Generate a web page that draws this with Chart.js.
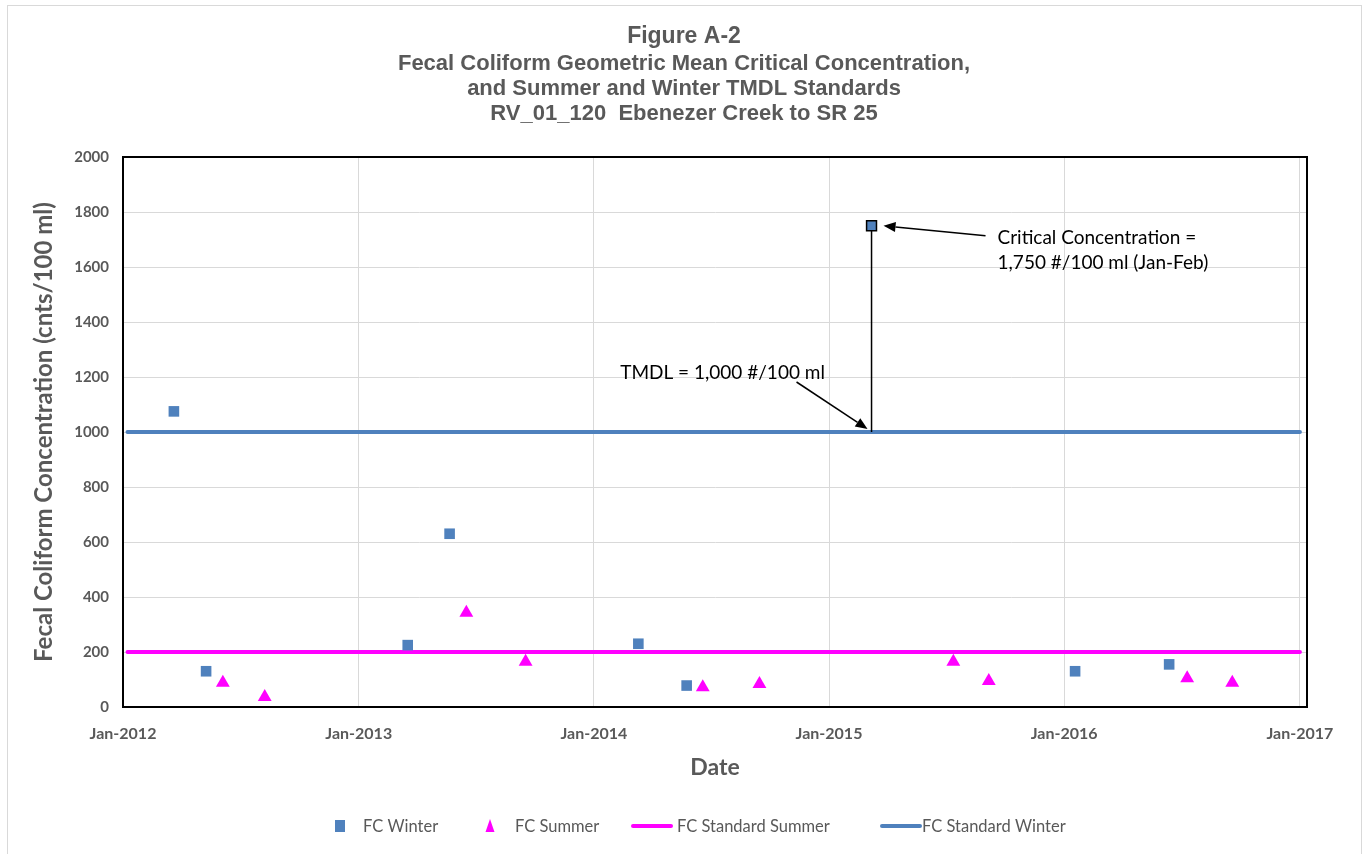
<!DOCTYPE html>
<html>
<head>
<meta charset="utf-8">
<script src="https://cdn.jsdelivr.net/npm/chart.js@4/dist/chart.umd.min.js"></script>
<style>
html,body{margin:0;padding:0;background:#fff;}
#wrap{width:1369px;height:854px;position:relative;}
</style>
</head>
<body>
<div id="wrap"><canvas id="c" width="1369" height="854"></canvas></div>
<script>
// ---------- data ----------
const winterDates  = ['2012-03-20','2012-05-09','2013-03-18','2013-05-22','2014-03-11','2014-05-25','2016-01-18','2016-06-12'];
const winterValues = [1075, 130, 225, 630, 230, 78, 130, 155];

const summerDates  = ['2012-06-04','2012-08-08','2013-06-17','2013-09-17','2014-06-19','2014-09-15','2015-07-13','2015-09-06','2016-07-10','2016-09-18'];
const summerValues = [88, 36, 343, 165, 72, 84, 165, 95, 105, 88];

const criticalDate  = '2015-03-08';
const criticalValue = 1750;

const standardDates  = ['2012-01-08','2017-01-01'];
const summerStandard = [200, 200];
const winterStandard = [1000, 1000];

const xTickDates = ['2012-01-01','2013-01-01','2014-01-01','2015-01-01','2016-01-01','2017-01-01'];
const monthNames = ['Jan','Feb','Mar','Apr','May','Jun','Jul','Aug','Sep','Oct','Nov','Dec'];

const titleLines = ['Figure A-2','Fecal Coliform Geometric Mean Critical Concentration,','and Summer and Winter TMDL Standards','RV_01_120  Ebenezer Creek to SR 25'];
const critLabel = ['Critical Concentration =','1,750 #/100 ml (Jan-Feb)'];
const tmdlLabel = 'TMDL = 1,000 #/100 ml';

// ---------- helpers ----------
const toT = d => Date.parse(d + 'T00:00:00Z');
const pts = (dates, vals) => dates.map((d, i) => ({x: toT(d), y: vals[i]}));

const BLUE = '#4f81bd', PINK = '#ff00ff', GRAY = '#595959', GRID = '#d9d9d9';

const datasets = [
  {label: 'Critical Concentration', data: pts([criticalDate],[criticalValue]), pointStyle: 'rect', pointRadius: 7,
   backgroundColor: BLUE, borderColor: '#000', pointBorderWidth: 1.5, showLine: false, order: 0},
  {label: 'FC Winter', data: pts(winterDates, winterValues), pointStyle: 'rect', pointRadius: 7.5,
   backgroundColor: BLUE, borderColor: BLUE, pointBorderWidth: 0, showLine: false, order: 1},
  {label: 'FC Summer', data: pts(summerDates, summerValues), pointStyle: 'triangle', pointRadius: 8,
   backgroundColor: PINK, borderColor: PINK, pointBorderWidth: 0, showLine: false, order: 1},
  {label: 'leader', data: pts([criticalDate, criticalDate],[criticalValue, winterStandard[0]]), showLine: true,
   borderColor: '#000', borderWidth: 1.5, pointRadius: 0, order: 2},
  {label: 'FC Standard Summer', data: pts(standardDates, summerStandard), showLine: true, borderColor: PINK,
   backgroundColor: PINK, borderWidth: 4, borderCapStyle: 'round', pointRadius: 0, order: 3},
  {label: 'FC Standard Winter', data: pts(standardDates, winterStandard), showLine: true, borderColor: BLUE,
   backgroundColor: BLUE, borderWidth: 4, borderCapStyle: 'round', pointRadius: 0, order: 3}
];

function arrow(ctx, x1, y1, x2, y2, head, width) {
  const a = Math.atan2(y2 - y1, x2 - x1);
  const bx = x2 - head * Math.cos(a), by = y2 - head * Math.sin(a);
  ctx.beginPath(); ctx.moveTo(x1, y1); ctx.lineTo(bx, by); ctx.stroke();
  ctx.beginPath();
  ctx.moveTo(x2, y2);
  ctx.lineTo(bx + width/2 * Math.sin(a), by - width/2 * Math.cos(a));
  ctx.lineTo(bx - width/2 * Math.sin(a), by + width/2 * Math.cos(a));
  ctx.closePath(); ctx.fill();
}

const decor = {
  id: 'decor',
  beforeDraw(chart) {
    const ctx = chart.ctx;
    ctx.save();
    ctx.fillStyle = '#fff';
    ctx.fillRect(0, 0, chart.width, chart.height);
    ctx.strokeStyle = GRID; ctx.lineWidth = 1;
    ctx.strokeRect(7.5, 5.5, 1354, 870);
    // titles
    ctx.fillStyle = GRAY; ctx.textAlign = 'center'; ctx.textBaseline = 'middle';
    ctx.font = 'bold 23px "Liberation Sans", Arial, sans-serif';
    ctx.fillText(titleLines[0], 684, 37);
    ctx.font = 'bold 22px "Liberation Sans", Arial, sans-serif';
    ctx.fillText(titleLines[1], 684, 64);
    ctx.fillText(titleLines[2], 684, 89);
    ctx.fillText(titleLines[3], 684, 114);
    ctx.restore();
  },
  afterDraw(chart) {
    const ctx = chart.ctx, ca = chart.chartArea;
    const xs = chart.scales.x, ys = chart.scales.y;
    ctx.save();
    // plot border
    ctx.strokeStyle = '#000'; ctx.lineWidth = 2;
    ctx.strokeRect(ca.left, ca.top, ca.right - ca.left, ca.bottom - ca.top);
    // annotations
    const cx = xs.getPixelForValue(toT(criticalDate));
    const cy = ys.getPixelForValue(criticalValue);
    const ty = ys.getPixelForValue(winterStandard[0]);
    ctx.strokeStyle = '#000'; ctx.fillStyle = '#000'; ctx.lineWidth = 1.5;
    arrow(ctx, cx + 114, cy + 10, cx + 12, cy, 12, 10);
    arrow(ctx, cx - 75, ty - 50, cx - 4, ty - 3, 12, 10);
    ctx.font = '19px Lato, "Open Sans", sans-serif';
    ctx.textAlign = 'left'; ctx.textBaseline = 'middle';
    ctx.fillText(critLabel[0], cx + 126, cy + 12);
    ctx.fillText(critLabel[1], cx + 126, cy + 37);
    ctx.textAlign = 'center';
    ctx.fillText(tmdlLabel, cx - 149, ty - 59);
    // legend
    const ly = 826;
    const ds = chart.data.datasets;
    const items = [
      {ds: ds[1], kind: 'rect', mx: 340, tx: 363},
      {ds: ds[2], kind: 'tri', mx: 490, tx: 515},
      {ds: ds[4], kind: 'line', mx: 652, tx: 677},
      {ds: ds[5], kind: 'line', mx: 901, tx: 922}
    ];
    ctx.font = '16.5px Lato, "Open Sans", sans-serif';
    ctx.textAlign = 'left'; ctx.textBaseline = 'middle';
    items.forEach(it => {
      if (it.kind === 'rect') {
        ctx.fillStyle = it.ds.backgroundColor;
        ctx.fillRect(it.mx - 5, ly - 6, 10, 12);
      } else if (it.kind === 'tri') {
        ctx.fillStyle = it.ds.backgroundColor;
        ctx.beginPath(); ctx.moveTo(it.mx, ly - 7); ctx.lineTo(it.mx + 4.5, ly + 6); ctx.lineTo(it.mx - 4.5, ly + 6); ctx.closePath(); ctx.fill();
      } else {
        ctx.strokeStyle = it.ds.borderColor; ctx.lineWidth = 4; ctx.lineCap = 'round';
        ctx.beginPath(); ctx.moveTo(it.mx - 19, ly); ctx.lineTo(it.mx + 19, ly); ctx.stroke();
      }
      ctx.fillStyle = GRAY;
      ctx.fillText(it.ds.label, it.tx, ly + 1);
    });
    ctx.restore();
  }
};

new Chart(document.getElementById('c'), {
  type: 'scatter',
  data: {datasets},
  plugins: [decor],
  options: {
    responsive: false,
    animation: false,
    events: [],
    layout: {padding: {top: 157, right: 62, bottom: 0, left: 0}},
    plugins: {legend: {display: false}, tooltip: {enabled: false}, title: {display: false}},
    scales: {
      x: {
        type: 'linear',
        min: toT('2012-01-01'),
        max: toT('2017-01-12'),
        afterBuildTicks: s => { s.ticks = xTickDates.map(d => ({value: toT(d)})); },
        afterFit: s => { s.height = 147; },
        ticks: {
          autoSkip: false, maxRotation: 0, padding: 17, color: GRAY,
          font: {family: 'Lato', weight: 'bold', size: 16},
          callback: v => { const d = new Date(v); return monthNames[d.getUTCMonth()] + '-' + d.getUTCFullYear(); }
        },
        grid: {color: GRID, lineWidth: 1, drawTicks: false},
        border: {display: true, color: '#000', width: 2},
        title: {display: true, text: 'Date', color: GRAY, font: {family: 'Lato', weight: 'bold', size: 23}, padding: {bottom: 73}}
      },
      y: {
        min: 0, max: 2000,
        afterFit: s => { s.width = 123; },
        ticks: {stepSize: 200, padding: 14, color: GRAY, font: {family: 'Lato', weight: 'bold', size: 15},
                callback: v => String(v)},
        grid: {color: GRID, lineWidth: 1, drawTicks: false},
        border: {display: true, color: '#000', width: 2},
        title: {display: true, text: 'Fecal Coliform Concentration (cnts/100 ml)', color: GRAY,
                font: {family: 'Lato', weight: 'bold', size: 24}, padding: {top: 30}}
      }
    }
  }
});
</script>
</body>
</html>
